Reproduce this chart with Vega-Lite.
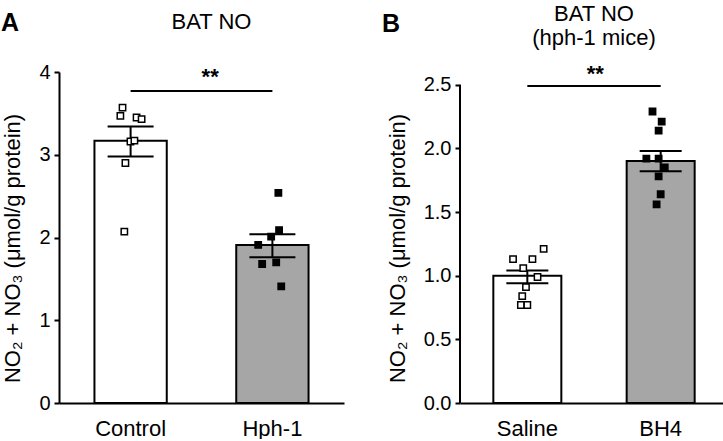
{
  "$schema": "https://vega.github.io/schema/vega-lite/v6.json",
  "padding": {"top": 3, "left": 0, "right": 0, "bottom": 0},
  "background": "white",
  "spacing": 37,
  "config": {
    "font": "Liberation Sans",
    "view": {"stroke": null},
    "axis": {"grid": false, "domainColor": "black", "domainWidth": 2, "tickColor": "black", "tickWidth": 2, "labelColor": "black", "titleColor": "black", "labelFont": "Liberation Sans", "titleFont": "Liberation Sans", "titleFontWeight": "normal"},
    "axisX": {"ticks": false, "tickSize": 0, "labelFontSize": 22, "labelPadding": 15, "labelAngle": 0},
    "axisY": {"tickSize": 5, "labelPadding": 4, "labelFontSize": 20, "titleFontSize": 22, "titlePadding": 14, "titleY": 176},
    "title": {"fontSize": 22, "fontWeight": "normal", "color": "black", "font": "Liberation Sans", "lineHeight": 24, "frame": "group"}
  },
  "datasets": {
    "sumA": [
      {"group": "Control", "mean": 3.17, "lo": 2.98, "hi": 3.34},
      {"group": "Hph-1", "mean": 1.91, "lo": 1.76, "hi": 2.04}
    ],
    "ptsA": [
      {"group": "Control", "j": -0.22, "value": 3.57},
      {"group": "Control", "j": -0.28, "value": 3.47},
      {"group": "Control", "j": 0.17, "value": 3.45},
      {"group": "Control", "j": 0.31, "value": 3.43},
      {"group": "Control", "j": 0.0, "value": 3.16},
      {"group": "Control", "j": 0.11, "value": 3.17},
      {"group": "Control", "j": -0.14, "value": 2.9},
      {"group": "Control", "j": -0.17, "value": 2.07},
      {"group": "Hph-1", "j": 0.17, "value": 2.54},
      {"group": "Hph-1", "j": 0.19, "value": 2.09},
      {"group": "Hph-1", "j": -0.03, "value": 2.01},
      {"group": "Hph-1", "j": -0.39, "value": 1.91},
      {"group": "Hph-1", "j": -0.28, "value": 1.68},
      {"group": "Hph-1", "j": 0.11, "value": 1.7},
      {"group": "Hph-1", "j": 0.25, "value": 1.41}
    ],
    "sigA": [{"from": "Control", "to": "Hph-1", "y": 3.77, "ly": 3.855, "label": "**"}],
    "sumB": [
      {"group": "Saline", "mean": 1.0, "lo": 0.94, "hi": 1.04},
      {"group": "BH4", "mean": 1.9, "lo": 1.82, "hi": 1.98}
    ],
    "ptsB": [
      {"group": "Saline", "j": -0.42, "value": 1.13},
      {"group": "Saline", "j": 0.15, "value": 1.13},
      {"group": "Saline", "j": 0.48, "value": 1.21},
      {"group": "Saline", "j": -0.12, "value": 1.06},
      {"group": "Saline", "j": 0.3, "value": 0.99},
      {"group": "Saline", "j": -0.04, "value": 0.91},
      {"group": "Saline", "j": -0.15, "value": 0.84},
      {"group": "Saline", "j": -0.19, "value": 0.77},
      {"group": "Saline", "j": 0.0, "value": 0.77},
      {"group": "BH4", "j": -0.24, "value": 2.29},
      {"group": "BH4", "j": 0.03, "value": 2.21},
      {"group": "BH4", "j": -0.06, "value": 2.14},
      {"group": "BH4", "j": -0.42, "value": 1.92},
      {"group": "BH4", "j": -0.06, "value": 1.92},
      {"group": "BH4", "j": 0.12, "value": 1.85},
      {"group": "BH4", "j": -0.06, "value": 1.78},
      {"group": "BH4", "j": 0.0, "value": 1.64},
      {"group": "BH4", "j": -0.12, "value": 1.56}
    ],
    "sigB": [{"from": "Saline", "to": "BH4", "y": 2.49, "ly": 2.53, "label": "**"}],
    "axisB": [{"a": 0, "b": 2.5}]
  },
  "hconcat": [
    {
      "width": 285,
      "height": 331,
      "title": {"text": "BAT NO", "offset": -23, "dx": 10},
      "resolve": {"scale": {"xOffset": "independent"}},
      "layer": [
        {
          "data": {"name": "sumA"},
          "mark": {"type": "bar", "stroke": "black", "strokeWidth": 2},
          "encoding": {
            "x": {"field": "group", "type": "nominal", "title": null, "scale": {"domain": ["Control", "Hph-1"], "paddingInner": 0.49, "paddingOuter": 0.25}},
            "y": {"field": "mean", "type": "quantitative", "scale": {"domain": [0, 4], "nice": false}, "axis": {"values": [0, 1, 2, 3, 4], "format": "d", "title": "NO₂ + NO₃ (μmol/g protein)"}},
            "fill": {"field": "group", "type": "nominal", "scale": {"domain": ["Control", "Hph-1"], "range": ["#ffffff", "#a6a6a6"]}, "legend": null}
          }
        },
        {
          "data": {"name": "sumA"},
          "mark": {"type": "rule", "strokeWidth": 2, "color": "black"},
          "encoding": {
            "x": {"field": "group", "type": "nominal", "title": null},
            "y": {"field": "lo", "type": "quantitative"},
            "y2": {"field": "hi"}
          }
        },
        {
          "data": {"name": "sumA"},
          "mark": {"type": "tick", "color": "black", "thickness": 2, "size": 46, "opacity": 1},
          "encoding": {
            "x": {"field": "group", "type": "nominal", "title": null},
            "y": {"field": "lo", "type": "quantitative"}
          }
        },
        {
          "data": {"name": "sumA"},
          "mark": {"type": "tick", "color": "black", "thickness": 2, "size": 46, "opacity": 1},
          "encoding": {
            "x": {"field": "group", "type": "nominal", "title": null},
            "y": {"field": "hi", "type": "quantitative"}
          }
        },
        {
          "data": {"name": "ptsA"},
          "mark": {"type": "point", "shape": "square", "filled": true, "size": 40, "stroke": "black", "strokeWidth": 1.5, "opacity": 1},
          "encoding": {
            "x": {"field": "group", "type": "nominal", "title": null},
            "xOffset": {"field": "j", "type": "quantitative", "scale": {"domain": [-1, 1], "range": [0, 72]}},
            "y": {"field": "value", "type": "quantitative"},
            "color": {"field": "group", "type": "nominal", "scale": {"domain": ["Control", "Hph-1"], "range": ["#ffffff", "#000000"]}, "legend": null}
          }
        },
        {
          "data": {"name": "sigA"},
          "mark": {"type": "rule", "strokeWidth": 2, "color": "black"},
          "encoding": {
            "x": {"field": "from", "type": "nominal", "title": null},
            "x2": {"field": "to"},
            "y": {"field": "y", "type": "quantitative"}
          }
        },
        {
          "data": {"name": "sigA"},
          "mark": {"type": "text", "fontSize": 22, "fontWeight": "bold", "baseline": "alphabetic", "color": "black"},
          "encoding": {
            "x": {"field": "from", "type": "nominal", "title": null, "bandPosition": 1.6},
            "y": {"field": "ly", "type": "quantitative"},
            "text": {"field": "label"}
          }
        },
        {
          "data": {"values": [{"label": "A"}]},
          "mark": {"type": "text", "fontSize": 25, "fontWeight": "bold", "align": "center", "baseline": "alphabetic", "color": "black"},
          "encoding": {
            "text": {"field": "label"},
            "x": {"value": -49},
            "y": {"value": -41}
          }
        }
      ]
    },
    {
      "width": 268,
      "height": 331,
      "title": {"text": ["BAT NO", "(hph-1 mice)"], "offset": -38, "dx": 0},
      "resolve": {"scale": {"xOffset": "independent"}},
      "layer": [
        {
          "data": {"name": "sumB"},
          "mark": {"type": "bar", "stroke": "black", "strokeWidth": 2},
          "encoding": {
            "x": {"field": "group", "type": "nominal", "title": null, "scale": {"domain": ["Saline", "BH4"], "paddingInner": 0.49, "paddingOuter": 0.25}},
            "y": {"field": "mean", "type": "quantitative", "scale": {"domain": [0, 2.6], "nice": false}, "axis": {"values": [0, 0.5, 1, 1.5, 2, 2.5], "format": ".1f", "domain": false, "title": "NO₂ + NO₃ (μmol/g protein)"}},
            "fill": {"field": "group", "type": "nominal", "scale": {"domain": ["Saline", "BH4"], "range": ["#ffffff", "#a6a6a6"]}, "legend": null}
          }
        },
        {
          "data": {"name": "axisB"},
          "mark": {"type": "rule", "strokeWidth": 2, "color": "black"},
          "encoding": {
            "x": {"value": 0},
            "y": {"field": "a", "type": "quantitative"},
            "y2": {"field": "b"}
          }
        },
        {
          "data": {"name": "sumB"},
          "mark": {"type": "rule", "strokeWidth": 2, "color": "black"},
          "encoding": {
            "x": {"field": "group", "type": "nominal", "title": null},
            "y": {"field": "lo", "type": "quantitative"},
            "y2": {"field": "hi"}
          }
        },
        {
          "data": {"name": "sumB"},
          "mark": {"type": "tick", "color": "black", "thickness": 2, "size": 42, "opacity": 1},
          "encoding": {
            "x": {"field": "group", "type": "nominal", "title": null},
            "y": {"field": "lo", "type": "quantitative"}
          }
        },
        {
          "data": {"name": "sumB"},
          "mark": {"type": "tick", "color": "black", "thickness": 2, "size": 42, "opacity": 1},
          "encoding": {
            "x": {"field": "group", "type": "nominal", "title": null},
            "y": {"field": "hi", "type": "quantitative"}
          }
        },
        {
          "data": {"name": "ptsB"},
          "mark": {"type": "point", "shape": "square", "filled": true, "size": 40, "stroke": "black", "strokeWidth": 1.5, "opacity": 1},
          "encoding": {
            "x": {"field": "group", "type": "nominal", "title": null},
            "xOffset": {"field": "j", "type": "quantitative", "scale": {"domain": [-1, 1], "range": [0, 68]}},
            "y": {"field": "value", "type": "quantitative"},
            "color": {"field": "group", "type": "nominal", "scale": {"domain": ["Saline", "BH4"], "range": ["#ffffff", "#000000"]}, "legend": null}
          }
        },
        {
          "data": {"name": "sigB"},
          "mark": {"type": "rule", "strokeWidth": 2, "color": "black"},
          "encoding": {
            "x": {"field": "from", "type": "nominal", "title": null},
            "x2": {"field": "to"},
            "y": {"field": "y", "type": "quantitative"}
          }
        },
        {
          "data": {"name": "sigB"},
          "mark": {"type": "text", "fontSize": 22, "fontWeight": "bold", "baseline": "alphabetic", "color": "black"},
          "encoding": {
            "x": {"field": "from", "type": "nominal", "title": null, "bandPosition": 1.5},
            "y": {"field": "ly", "type": "quantitative"},
            "text": {"field": "label"}
          }
        },
        {
          "data": {"values": [{"label": "B"}]},
          "mark": {"type": "text", "fontSize": 25, "fontWeight": "bold", "align": "center", "baseline": "alphabetic", "color": "black"},
          "encoding": {
            "text": {"field": "label"},
            "x": {"value": -69},
            "y": {"value": -40}
          }
        }
      ]
    }
  ]
}
